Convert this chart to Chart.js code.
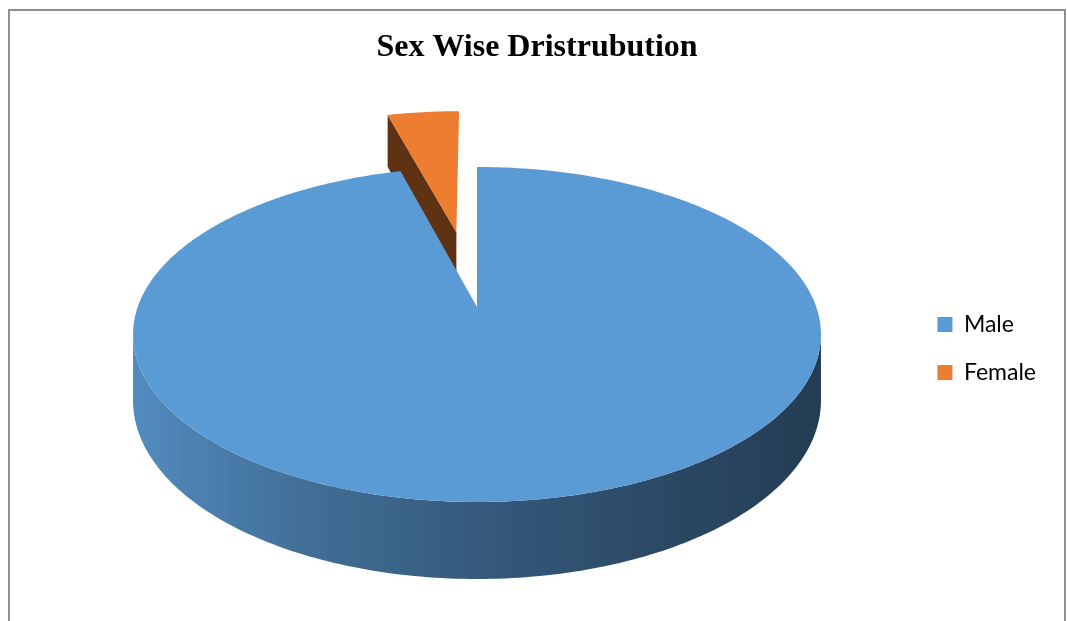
<!DOCTYPE html>
<html><head><meta charset="utf-8">
<script src="https://cdn.jsdelivr.net/npm/chart.js@4"></script>
<style>html,body{margin:0;padding:0;background:#fff}#wrap{width:1067px;height:621px;position:relative}</style>
</head><body><div id="wrap"><canvas id="c"></canvas></div>
<script>
// ---- data ----
const categories = ['Male', 'Female'];
const values = [95.8, 4.2];
const sliceColors = ['#5B9BD5', '#ED7D31'];
const chartTitle = 'Sex Wise Dristrubution';

// ---- 3D look (style only) ----
const VIEW = {cx: 477, cy: 307, a: 339.3, b: 163, p: -0.164, depth: 64.4};
const EXPLODE = [0, 0.5];
const CAMERA = [0, 4];

function proj(u, v, down) {
  const w = 1 + VIEW.p * v;
  return [VIEW.cx + VIEW.a * u / w, VIEW.cy + (VIEW.b * v + (down ? VIEW.depth : 0)) / w];
}
function shade(hex, f) {
  const n = parseInt(hex.slice(1), 16);
  const r = (n >> 16) & 255, g = (n >> 8) & 255, b = n & 255;
  return `rgb(${Math.round(r * f)},${Math.round(g * f)},${Math.round(b * f)})`;
}

const frame = {
  id: 'frame',
  beforeDraw(chart) {
    const ctx = chart.ctx;
    ctx.save();
    ctx.fillStyle = '#fff';
    ctx.fillRect(0, 0, chart.width, chart.height);
    ctx.strokeStyle = '#8f8f8f';
    ctx.lineWidth = 2;
    ctx.strokeRect(9, 10, 1056, 800);
    ctx.restore();
  }
};

const pie3d = {
  id: 'pie3d',
  beforeDatasetsDraw(chart) {
    const ctx = chart.ctx;
    const ds = chart.data.datasets[0];
    const arcs = chart.getDatasetMeta(0).data;
    const slices = arcs.map((arc, i) => {
      const s = arc.startAngle, e = arc.endAngle, m = (s + e) / 2;
      const ex = EXPLODE[i] || 0;
      return {i, s, e, ou: Math.cos(m) * ex, ov: Math.sin(m) * ex, color: ds.backgroundColor[i]};
    });
    slices.sort((A, B) => A.ov - B.ov);
    const N = 360;
    ctx.save();
    for (const sl of slices) {
      const {s, e, ou, ov, color} = sl;
      // radial cut faces
      const faces = [
        {ang: s, n: [Math.sin(s), -Math.cos(s)]},
        {ang: e, n: [-Math.sin(e), Math.cos(e)]}
      ];
      for (const f of faces) {
        const pu = ou + Math.cos(f.ang) * 0.5, pv = ov + Math.sin(f.ang) * 0.5;
        const dot = f.n[0] * (CAMERA[0] - pu) + f.n[1] * (CAMERA[1] - pv);
        if (dot > 0.2) {
          const a1 = proj(ou, ov, false), a2 = proj(ou + Math.cos(f.ang), ov + Math.sin(f.ang), false);
          const b2 = proj(ou + Math.cos(f.ang), ov + Math.sin(f.ang), true), b1 = proj(ou, ov, true);
          ctx.beginPath();
          ctx.moveTo(a1[0], a1[1]); ctx.lineTo(a2[0], a2[1]); ctx.lineTo(b2[0], b2[1]); ctx.lineTo(b1[0], b1[1]);
          ctx.closePath();
          ctx.fillStyle = shade(color, 0.4);
          ctx.fill();
        }
      }
      // outer wall (front part)
      const t1 = Math.asin(-VIEW.p), t2 = Math.PI - t1;
      for (let k = -1; k <= 1; k++) {
        const lo = Math.max(s, t1 + 2 * Math.PI * k), hi = Math.min(e, t2 + 2 * Math.PI * k);
        if (lo >= hi) continue;
        const steps = Math.max(8, Math.ceil((hi - lo) / (2 * Math.PI) * N));
        ctx.beginPath();
        for (let j = 0; j <= steps; j++) {
          const t = lo + (hi - lo) * j / steps;
          const q = proj(ou + Math.cos(t), ov + Math.sin(t), false);
          j ? ctx.lineTo(q[0], q[1]) : ctx.moveTo(q[0], q[1]);
        }
        for (let j = steps; j >= 0; j--) {
          const t = lo + (hi - lo) * j / steps;
          const q = proj(ou + Math.cos(t), ov + Math.sin(t), true);
          ctx.lineTo(q[0], q[1]);
        }
        ctx.closePath();
        const L = proj(-1, -VIEW.p, false)[0], R = proj(1, -VIEW.p, false)[0];
        const g = ctx.createLinearGradient(L, 0, R, 0);
        g.addColorStop(0, shade(color, 0.9));
        g.addColorStop(0.24, shade(color, 0.72));
        g.addColorStop(0.5, shade(color, 0.58));
        g.addColorStop(0.75, shade(color, 0.48));
        g.addColorStop(1, shade(color, 0.39));
        ctx.fillStyle = g;
        ctx.fill();
      }
      // top face
      const steps = Math.max(8, Math.ceil((e - s) / (2 * Math.PI) * N));
      ctx.beginPath();
      const c0 = proj(ou, ov, false);
      ctx.moveTo(c0[0], c0[1]);
      for (let j = 0; j <= steps; j++) {
        const t = s + (e - s) * j / steps;
        const q = proj(ou + Math.cos(t), ov + Math.sin(t), false);
        ctx.lineTo(q[0], q[1]);
      }
      ctx.closePath();
      ctx.fillStyle = color;
      ctx.fill();
    }
    ctx.restore();
    return false;
  }
};

new Chart(document.getElementById('c'), {
  type: 'pie',
  data: {
    labels: categories,
    datasets: [{data: values, backgroundColor: sliceColors, borderWidth: 0}]
  },
  options: {
    responsive: true,
    maintainAspectRatio: false,
    animation: false,
    devicePixelRatio: 1,
    events: [],
    layout: {padding: {top: 0, right: 21, bottom: 212, left: 28}},
    plugins: {
      title: {
        display: true, text: chartTitle, color: '#000',
        font: {family: "'Liberation Serif','Times New Roman',serif", size: 32, weight: 'bold'},
        padding: {top: 29, bottom: 10}
      },
      legend: {
        position: 'right',
        align: 'end',
        labels: {boxWidth: 15, boxHeight: 15, padding: 25, color: '#000', font: {family: 'Lato', size: 23}}
      },
      tooltip: {enabled: false}
    }
  },
  plugins: [frame, pie3d]
});
</script>
</body></html>
